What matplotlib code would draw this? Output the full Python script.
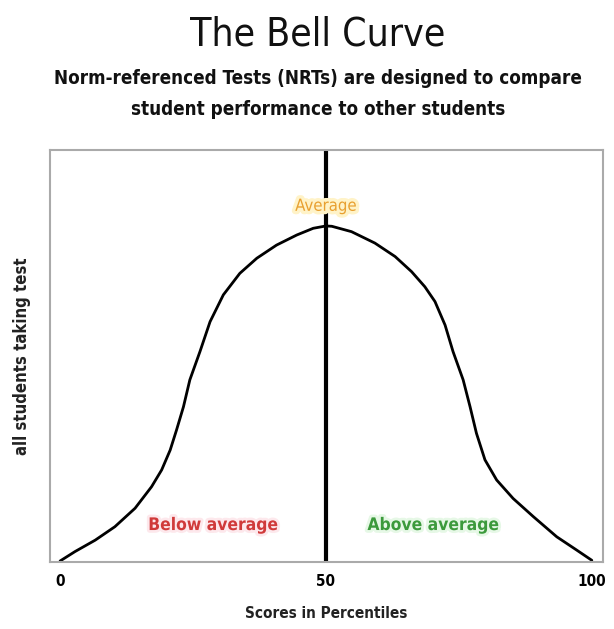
import matplotlib
matplotlib.use("Agg")
import matplotlib.pyplot as plt
import matplotlib.patheffects as pe

# Data (score percentile, relative frequency)
scores = [0, 2.8, 6.6, 10.3, 14.1, 17.2, 19.1, 20.7, 21.9, 23.2, 24.4, 26.3, 28.2, 30.7, 33.8, 37.0,
          40.7, 44.5, 47.6, 50, 51.1, 54.8, 59.2, 63.0, 66.1, 68.6, 70.5, 72.4, 73.9, 75.8, 77.1,
          78.3, 79.9, 82.1, 85.2, 89.0, 93.4, 97.1, 100]
freq = [0.003, 0.031, 0.065, 0.105, 0.160, 0.224, 0.274, 0.333, 0.393, 0.462, 0.542, 0.626, 0.715, 0.795,
        0.859, 0.904, 0.943, 0.973, 0.993, 1.0, 0.999, 0.983, 0.949, 0.909, 0.864, 0.819, 0.775, 0.705,
        0.626, 0.542, 0.462, 0.383, 0.304, 0.244, 0.189, 0.135, 0.075, 0.036, 0.005]
average_score = 50
xticks = [0, 50, 100]
title = "The Bell Curve"
subtitle = "Norm-referenced Tests (NRTs) are designed to compare\nstudent performance to other students"

plt.rcParams['font.family'] = ['DejaVu Sans']
plt.rcParams['font.stretch'] = 'condensed'
cond = dict(family='DejaVu Sans', stretch='condensed')

fig = plt.figure(figsize=(6.14, 6.29), dpi=100)
ax = fig.add_axes([50/614, 1-562/629, (603-50)/614, (562-150)/629])

ax.plot(scores, freq, color='black', lw=2.0, solid_capstyle='round', solid_joinstyle='round')
ax.axvline(average_score, color='black', lw=3.0)

ax.set_xlim(-1.9, 102.1)
ax.set_ylim(0, 1.226)
ax.set_xticks(xticks)
ax.set_xticklabels([str(t) for t in xticks], fontsize=11, fontweight='bold', **cond)
ax.tick_params(axis='x', length=0, pad=9)
ax.set_yticks([])
for s in ax.spines.values():
    s.set_color('#aaaaaa')
    s.set_linewidth(1.5)

ax.set_xlabel("Scores in Percentiles", fontsize=11, fontweight='bold', labelpad=12, color='#222222', **cond)
ax.set_ylabel("all students taking test", fontsize=12, fontweight='bold', labelpad=14, color='#222222', **cond)

ax.text(average_score, 1.06, "Average", ha='center', va='center', fontsize=12,
        color='#e8a030', path_effects=[pe.withStroke(linewidth=5, foreground='#fff3c8')], **cond)
ax.text(28.8, 0.11, "Below average", ha='center', va='center', fontsize=12.5, fontweight='bold',
        color='#d03a3a', path_effects=[pe.withStroke(linewidth=4, foreground='#fde8ec')], **cond)
ax.text(70.2, 0.11, "Above average", ha='center', va='center', fontsize=12.5, fontweight='bold',
        color='#3c9a3c', path_effects=[pe.withStroke(linewidth=4, foreground='#e6f8e6')], **cond)

fig.text(0.518, 1-34/629, title, ha='center', va='center', fontsize=28, color='#111111', **cond)
fig.text(0.518, 1-94/629, subtitle, ha='center', va='center', fontsize=13.5, fontweight='bold',
         color='#111111', linespacing=1.85, **cond)

fig.savefig("out.png", dpi=100)
